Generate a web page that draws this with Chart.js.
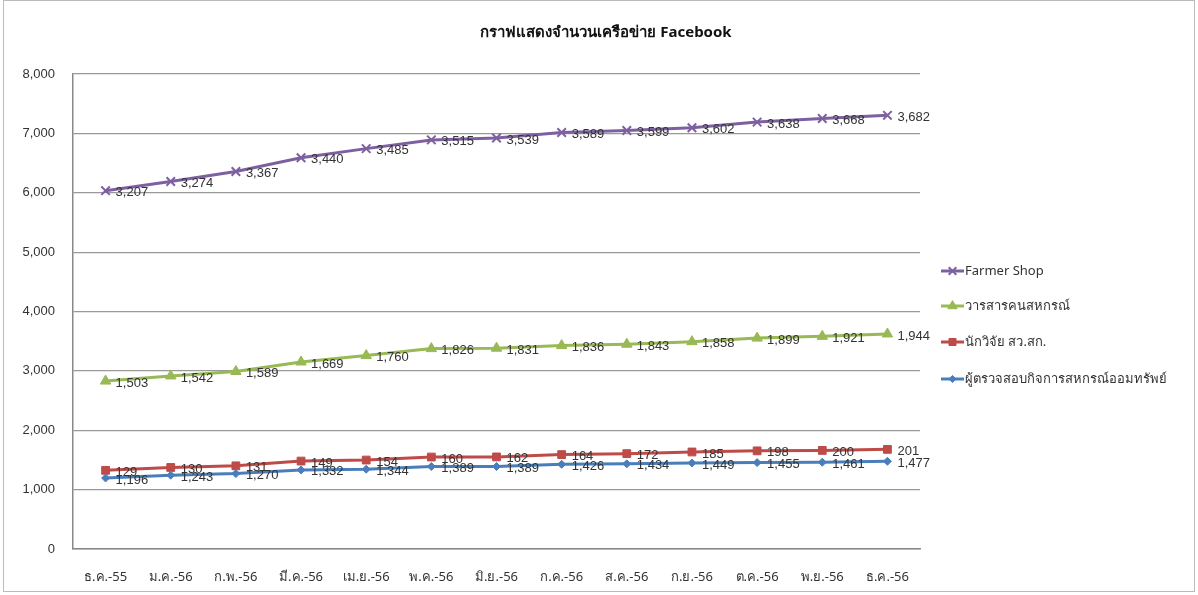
<!DOCTYPE html>
<html>
<head>
<meta charset="utf-8">
<script src="https://cdn.jsdelivr.net/npm/chart.js@4/dist/chart.umd.min.js"></script>
<style>
  html,body{margin:0;padding:0;background:#fff;}
  #wrap{position:relative;width:1198px;height:595px;}
</style>
</head>
<body>
<div id="wrap"><canvas id="ch"></canvas></div>
<script>
// กราฟแสดงจำนวนเครือข่าย Facebook — เส้นซ้อน (stacked) 4 ชุด
const months = ['ธ.ค.-55','ม.ค.-56','ก.พ.-56','มี.ค.-56','เม.ย.-56','พ.ค.-56','มิ.ย.-56','ก.ค.-56','ส.ค.-56','ก.ย.-56','ต.ค.-56','พ.ย.-56','ธ.ค.-56'];
const auditor  = [1196,1243,1270,1332,1344,1389,1389,1426,1434,1449,1455,1461,1477];
const research = [129,130,131,149,154,160,162,164,172,185,198,200,201];
const journal  = [1503,1542,1589,1669,1760,1826,1831,1836,1843,1858,1899,1921,1944];
const farmer   = [3207,3274,3367,3440,3485,3515,3539,3589,3599,3602,3638,3668,3682];
const yTicks   = [0,1000,2000,3000,4000,5000,6000,7000,8000];

const TITLE = 'กราฟแสดงจำนวนเครือข่าย Facebook';
const FONT = "'Liberation Sans', Arial, 'Noto Sans', sans-serif";
const THAI = "'Noto Sans', 'DejaVu Sans', sans-serif";
const fmt = n => n.toLocaleString('en-US');

// ชุดข้อมูล (ล่างสุดก่อน)
const series = [
  { label:'ผู้ตรวจสอบกิจการสหกรณ์ออมทรัพย์', data:auditor,  color:'#4A7EBB', point:'rectRot',  r:4 },
  { label:'นักวิจัย สว.สก.',                  data:research, color:'#BE4B48', point:'rect',     r:5.5 },
  { label:'วารสารคนสหกรณ์',                  data:journal,  color:'#98B954', point:'triangle', r:6 },
  { label:'Farmer Shop',                      data:farmer,   color:'#7D60A0', point:'crossRot', r:6 }
];

// ป้ายค่าข้างจุด + คำอธิบายด้านขวา + หัวเรื่อง
const decor = {
  id:'decor',
  afterDatasetsDraw(chart){
    const ctx = chart.ctx;
    ctx.save();
    ctx.font = '13px ' + FONT;
    ctx.fillStyle = '#333';
    ctx.textBaseline = 'middle';
    ctx.textAlign = 'left';
    chart.data.datasets.forEach((ds,i)=>{
      chart.getDatasetMeta(i).data.forEach((p,j)=>{
        ctx.fillText(fmt(ds.data[j]), p.x + 10, p.y + 2);
      });
    });
    // legend
    const ys = [271,306,342,379];
    [...series].reverse().forEach((s,k)=>{
      const y = ys[k];
      ctx.strokeStyle = s.color; ctx.fillStyle = s.color; ctx.lineWidth = 3;
      ctx.beginPath(); ctx.moveTo(941,y); ctx.lineTo(964,y); ctx.stroke();
      ctx.lineWidth = s.point==='crossRot' ? 2 : 1;
      Chart.helpers.drawPoint(ctx, {pointStyle:s.point, radius:s.r*0.9, borderWidth:ctx.lineWidth}, 952.5, y);
      ctx.fillStyle = '#333';
      ctx.font = '13px ' + THAI;
      ctx.fillText(s.label, 965, y);
    });
    // title
    ctx.font = 'bold 15px ' + THAI;
    ctx.textAlign = 'center';
    ctx.fillStyle = '#111';
    ctx.fillText(TITLE, 606, 33);
    // กรอบนอก
    ctx.strokeStyle = '#bbb'; ctx.lineWidth = 1;
    ctx.strokeRect(3.5, 0.5, 1191, 591);
    ctx.restore();
  }
};

new Chart(document.getElementById('ch'), {
  type:'line',
  data:{
    labels:months,
    datasets:series.map(s=>({
      label:s.label, data:s.data,
      borderColor:s.color, backgroundColor:s.color,
      borderWidth:3, pointStyle:s.point, pointRadius:s.r, pointHoverRadius:s.r,
      pointBorderColor:s.color, pointBackgroundColor:s.color,
      pointBorderWidth:s.point==='crossRot'?2:1,
      tension:0, fill:false
    }))
  },
  options:{
    responsive:true, maintainAspectRatio:false, animation:false,
    layout:{ padding:{ top:74, right:278, bottom:0, left:0 } },
    plugins:{ legend:{display:false}, tooltip:{enabled:false}, title:{display:false} },
    scales:{
      x:{
        offset:true,
        grid:{ display:false, drawTicks:false },
        border:{ color:'#888', width:1.5 },
        ticks:{ color:'#333', padding:20, maxRotation:0, autoSkip:false,
                font:{ size:13, family:THAI } },
        afterFit(scale){ scale.height = 46; }
      },
      y:{
        stacked:true, min:0, max:8000,
        afterBuildTicks(scale){ scale.ticks = yTicks.map(v=>({value:v})); },
        grid:{ color:'#999', lineWidth:1.2, drawTicks:false },
        border:{ color:'#888', width:1.5 },
        ticks:{ color:'#333', padding:18, font:{ size:13, family:FONT }, callback:v=>fmt(v) },
        afterFit(scale){ scale.width = 73; }
      }
    }
  },
  plugins:[decor]
});
</script>
</body>
</html>
